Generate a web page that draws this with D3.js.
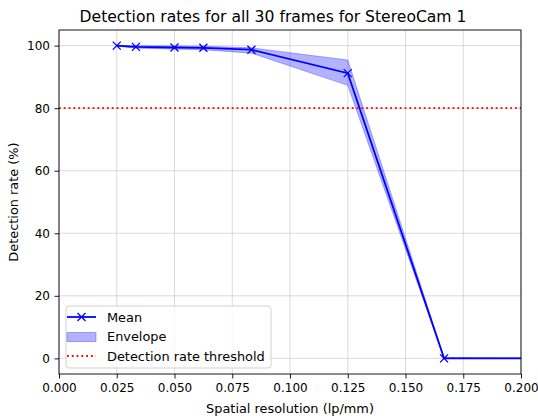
<!DOCTYPE html>
<html>
<head>
<meta charset="utf-8">
<script src="https://cdn.jsdelivr.net/npm/d3@7"></script>
<style>
  body { margin: 0; background: #fff; }
  svg { display: block; font-family: "DejaVu Sans", sans-serif; }
</style>
</head>
<body>
<svg id="chart" width="538" height="416"></svg>
<script>
// Spatial resolution sample points (lp/mm)
const resolution = [0.025, 0.0333, 0.05, 0.0625, 0.0833, 0.125, 0.1667, 0.25];
// Mean detection rate (%) across the 30 frames
const meanRate = [100, 99.6, 99.4, 99.3, 98.7, 91.2, 0, 0];
// Envelope (min / max over frames)
const envUpper = [100, 100, 99.9, 99.8, 99.3, 95.4, 0.3, 0];
const envLower = [99.8, 99.2, 98.9, 98.7, 97.6, 87.3, 0, 0];
const threshold = 80;
const xTicks = [0, 0.025, 0.05, 0.075, 0.1, 0.125, 0.15, 0.175, 0.2];
const yTicks = [0, 20, 40, 60, 80, 100];

const svg = d3.select("#chart");
const m = { left: 59, right: 521, top: 30, bottom: 374 };
const fs = 12.9;     // label / legend text
const tickFs = 12;   // tick labels

const x = d3.scaleLinear().domain([0, 0.2]).range([m.left, m.right]);
const y = d3.scaleLinear().domain([-5, 105]).range([m.bottom, m.top]);

svg.append("defs").append("clipPath").attr("id", "plotclip")
  .append("rect").attr("x", m.left).attr("y", m.top)
  .attr("width", m.right - m.left).attr("height", m.bottom - m.top);

// Grid
const grid = svg.append("g");
grid.selectAll(".gx").data(xTicks).join("line")
  .attr("x1", d => x(d)).attr("x2", d => x(d))
  .attr("y1", m.top).attr("y2", m.bottom)
  .attr("stroke", "#b0b0b0").attr("stroke-opacity", 0.5).attr("stroke-width", 0.9);
grid.selectAll(".gy").data(yTicks).join("line")
  .attr("y1", d => y(d)).attr("y2", d => y(d))
  .attr("x1", m.left).attr("x2", m.right)
  .attr("stroke", "#b0b0b0").attr("stroke-opacity", 0.5).attr("stroke-width", 0.9);

const plot = svg.append("g").attr("clip-path", "url(#plotclip)");
const pts = resolution.map((r, i) => ({ r, mean: meanRate[i], lo: envLower[i], hi: envUpper[i] }));

// Envelope band
plot.append("path").datum(pts)
  .attr("d", d3.area().x(d => x(d.r)).y0(d => y(d.lo)).y1(d => y(d.hi)))
  .attr("fill", "#0000ff").attr("fill-opacity", 0.3).attr("stroke", "#0000ff").attr("stroke-opacity", 0.3).attr("stroke-width", 1);

// Mean line
plot.append("path").datum(pts)
  .attr("d", d3.line().x(d => x(d.r)).y(d => y(d.mean)))
  .attr("fill", "none").attr("stroke", "#0000ff").attr("stroke-width", 1.8);

// X markers
const mk = 4;
plot.selectAll(".mk").data(pts).join("path")
  .attr("d", d => {
    const cx = x(d.r), cy = y(d.mean);
    return `M${cx - mk},${cy - mk}L${cx + mk},${cy + mk}M${cx - mk},${cy + mk}L${cx + mk},${cy - mk}`;
  })
  .attr("stroke", "#0000ff").attr("stroke-width", 1.3).attr("fill", "none");

// Threshold line
plot.append("line")
  .attr("x1", m.left).attr("x2", m.right)
  .attr("y1", y(threshold)).attr("y2", y(threshold))
  .attr("stroke", "#ff0000").attr("stroke-width", 1.8).attr("stroke-dasharray", "1.8,3");

// Axes
const xAxis = svg.append("g").attr("transform", `translate(0,${m.bottom})`)
  .call(d3.axisBottom(x).tickValues(xTicks).tickFormat(d3.format(".3f")).tickSizeOuter(0).tickSize(4.5).tickPadding(4.5));
const yAxis = svg.append("g").attr("transform", `translate(${m.left},0)`)
  .call(d3.axisLeft(y).tickValues(yTicks).tickSizeOuter(0).tickSize(4.5).tickPadding(4.5));
[xAxis, yAxis].forEach(a => {
  a.select(".domain").remove();
  a.selectAll("text").attr("font-size", tickFs).attr("fill", "#000").attr("font-family", "DejaVu Sans");
  a.selectAll("line").attr("stroke", "#000").attr("stroke-width", 0.9);
});

// Frame
svg.append("rect").attr("x", m.left).attr("y", m.top)
  .attr("width", m.right - m.left).attr("height", m.bottom - m.top)
  .attr("fill", "none").attr("stroke", "#000").attr("stroke-width", 0.9);

// Title (centred on the figure) and axis labels
svg.append("text").attr("x", 273).attr("y", 22)
  .attr("text-anchor", "middle").attr("font-size", 15.6).text("Detection rates for all 30 frames for StereoCam 1");
svg.append("text").attr("x", (m.left + m.right) / 2).attr("y", 413)
  .attr("text-anchor", "middle").attr("font-size", fs).text("Spatial resolution (lp/mm)");
svg.append("text").attr("transform", `translate(18,${(m.top + m.bottom) / 2}) rotate(-90)`)
  .attr("text-anchor", "middle").attr("font-size", fs).text("Detection rate (%)");

// Legend
const lg = svg.append("g").attr("transform", "translate(66,306)");
lg.append("rect").attr("width", 205).attr("height", 62).attr("rx", 3)
  .attr("fill", "#fff").attr("fill-opacity", 0.8).attr("stroke", "#cccccc").attr("stroke-width", 0.9);
const items = [
  { label: "Mean", type: "line" },
  { label: "Envelope", type: "band" },
  { label: "Detection rate threshold", type: "dot" }
];
items.forEach((it, i) => {
  const cy = 11 + i * 19.5;
  const g = lg.append("g");
  if (it.type === "line") {
    g.append("line").attr("x1", 1).attr("x2", 30).attr("y1", cy).attr("y2", cy)
      .attr("stroke", "#0000ff").attr("stroke-width", 1.8);
    g.append("path").attr("d", `M${15.5 - mk},${cy - mk}L${15.5 + mk},${cy + mk}M${15.5 - mk},${cy + mk}L${15.5 + mk},${cy - mk}`)
      .attr("stroke", "#0000ff").attr("stroke-width", 1.3);
  } else if (it.type === "band") {
    g.append("rect").attr("x", 1).attr("y", cy - 4).attr("width", 29).attr("height", 9)
      .attr("fill", "#0000ff").attr("fill-opacity", 0.3).attr("stroke", "#0000ff").attr("stroke-opacity", 0.3);
  } else {
    g.append("line").attr("x1", 1).attr("x2", 30).attr("y1", cy).attr("y2", cy)
      .attr("stroke", "#ff0000").attr("stroke-width", 1.8).attr("stroke-dasharray", "1.8,3");
  }
  g.append("text").attr("x", 41).attr("y", cy + 4.6).attr("font-size", fs).text(it.label);
});
</script>
</body>
</html>
